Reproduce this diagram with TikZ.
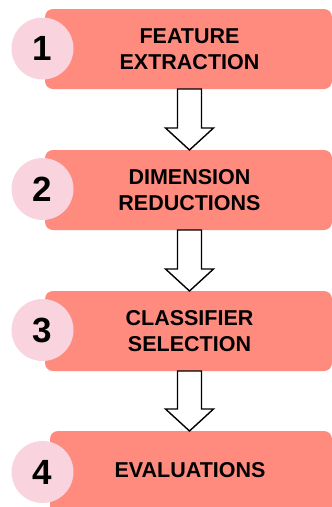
\documentclass[tikz,border=0pt]{standalone}
\usepackage{fontspec}
\setmainfont{Liberation Sans}
\usetikzlibrary{calc}
\definecolor{boxfill}{RGB}{255,139,127}
\definecolor{circfill}{RGB}{249,212,222}
\begin{document}
\begin{tikzpicture}[x=1pt,y=-1pt,
  stepbox/.style={fill=boxfill,rounded corners=8pt,draw=none},
  numcirc/.style={circle,fill=circfill,minimum size=62pt,inner sep=0pt,font=\bfseries\fontsize{35}{35}\selectfont},
  boxtext/.style={align=center,font=\bfseries\fontsize{21.5}{26}\selectfont},
  hollowarrow/.style={draw=black,fill=white,line width=1.4pt,line join=miter}
]
\useasboundingbox (0,0) rectangle (332,507);
\clip (0,0) rectangle (332,507);
% boxes
\path[stepbox] (45,9) rectangle (332,89);
\path[stepbox] (45,150) rectangle (332,230);
\path[stepbox] (45,291) rectangle (332,371);
\path[stepbox] (50,431) rectangle (332,515);
\node[boxtext] (t1) at (189.5,49) {FEATURE\\EXTRACTION};
\node[boxtext] (t2) at (189.5,190) {DIMENSION\\REDUCTIONS};
\node[boxtext] (t3) at (189.5,331) {CLASSIFIER\\SELECTION};
\node[boxtext] (t4) at (190,470) {EVALUATIONS};
\coordinate (b1) at (189.5,89);
\coordinate (b2) at (189.5,230);
\coordinate (b3) at (189.5,371);
\coordinate (p2) at (189.5,150);
\coordinate (p3) at (189.5,291);
\coordinate (p4) at (189.5,431);
% circles
\node[numcirc] (c1) at (42.5,48.5) {1};
\node[numcirc] (c2) at (42.5,189) {2};
\node[numcirc] (c3) at (42.5,330) {3};
\node[numcirc] (c4) at (42.5,472) {4};
% arrows
\foreach \a/\b in {b1/p2,b2/p3,b3/p4}{
  \draw[hollowarrow] ($(\a)+(-12,0)$) -- ($(\a)+(12,0)$) -- ($(\b)+(12,-22)$) -- ($(\b)+(24,-22)$) -- (\b) -- ($(\b)+(-24,-22)$) -- ($(\b)+(-12,-22)$) -- cycle;
}
\end{tikzpicture}
\end{document}
